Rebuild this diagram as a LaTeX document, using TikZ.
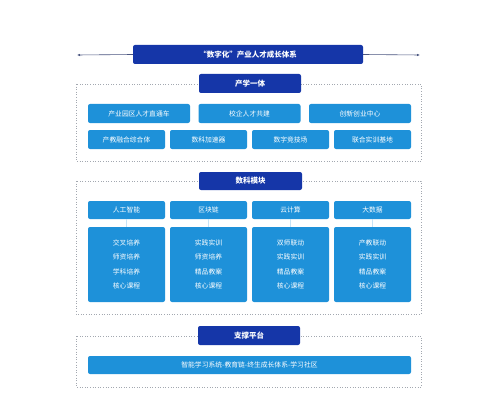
\documentclass[tikz,border=0pt]{standalone}
\usepackage{fontspec}
\newfontfamily\cjk{Noto Sans CJK SC}
\usepackage{xcolor}
\definecolor{TitleBlue}{HTML}{1536A8}
\definecolor{BoxBlue}{HTML}{1E91D9}
\definecolor{FrameGray}{HTML}{A3A8B0}
\definecolor{ArrowNavy}{HTML}{4A5680}
\usetikzlibrary{arrows.meta, positioning}

\begin{document}
\begin{tikzpicture}[x=1pt, y=-1pt,
  head/.style={rectangle, rounded corners=2pt, fill=TitleBlue, draw=none,
               minimum height=19pt, inner sep=0pt, align=center,
               font=\cjk\fontsize{7.5}{9}\selectfont\bfseries, text=white},
  item/.style={rectangle, rounded corners=2pt, fill=BoxBlue, draw=none,
               minimum height=19pt, inner sep=0pt, align=center,
               font=\cjk\fontsize{6.8}{8}\selectfont, text=white},
  frame/.style={draw=FrameGray, dotted, line width=0.6pt},
]
\useasboundingbox (0,0) rectangle (500,417);
\fill[white] (0,0) rectangle (500,417);

% title bar with arrows to both sides
\node[head, minimum width=230pt] (title) at (248,54.5) {“数字化”产业人才成长体系};
\coordinate (leftend) at (77,55);
\coordinate (rightend) at (420,55);
\draw[ArrowNavy, line width=0.6pt, -{Latex[length=3pt,width=2.5pt]}] (title.west) -- (leftend);
\draw[ArrowNavy, line width=0.6pt, -{Latex[length=3pt,width=2.5pt]}] (title.east) -- (rightend);

% section 1
\draw[frame] (76,84) rectangle (421,161);
\node[head, minimum width=102pt] (chanxue) at (250,83.5) {产学一体};
\foreach \i/\x/\txt in {1/139/产业园区人才直通车, 2/249.5/校企人才共建, 3/360/创新创业中心} {
  \node[item, minimum width=102pt] (ra\i) at (\x,113.5) {\txt};
}
\foreach \i/\x/\txt in {1/126.5/产教融合综合体, 2/208.5/数科加速器, 3/290.5/数字竞技场, 4/372.5/联合实训基地} {
  \node[item, minimum width=77pt] (rb\i) at (\x,139.5) {\txt};
}

% section 2
\draw[frame] (76,181) rectangle (421,314);
\node[head, minimum width=103pt, minimum height=18pt] (shuke) at (250.5,181) {数科模块};
\foreach \i/\x/\top/\body in {
  1/126.5/人工智能/交叉培养\\师资培养\\学科培养\\核心课程,
  2/208.5/区块链/实践实训\\师资培养\\精品教案\\核心课程,
  3/290.5/云计算/双师联动\\实践实训\\精品教案\\核心课程,
  4/372.5/大数据/产教联动\\实践实训\\精品教案\\核心课程
} {
  \node[item, minimum width=77pt, minimum height=18pt] (mod\i) at (\x,210) {\top};
  \node[item, minimum width=77pt, minimum height=75pt,
        font=\cjk\fontsize{6.8}{14.3}\selectfont] (sub\i) at (\x,264.5) {\body};
  \draw[white!75!BoxBlue, line width=0.6pt] (mod\i.south) -- (sub\i.north);
}

% section 3
\draw[frame] (76,336) rectangle (421,387);
\node[head, minimum width=102pt] (zhicheng) at (249,335.5) {支撑平台};
\node[item, minimum width=323pt, minimum height=18pt] (platform) at (249.5,365)
  {智能学习系统-教育链-终生成长体系-学习社区};
\end{tikzpicture}
\end{document}
